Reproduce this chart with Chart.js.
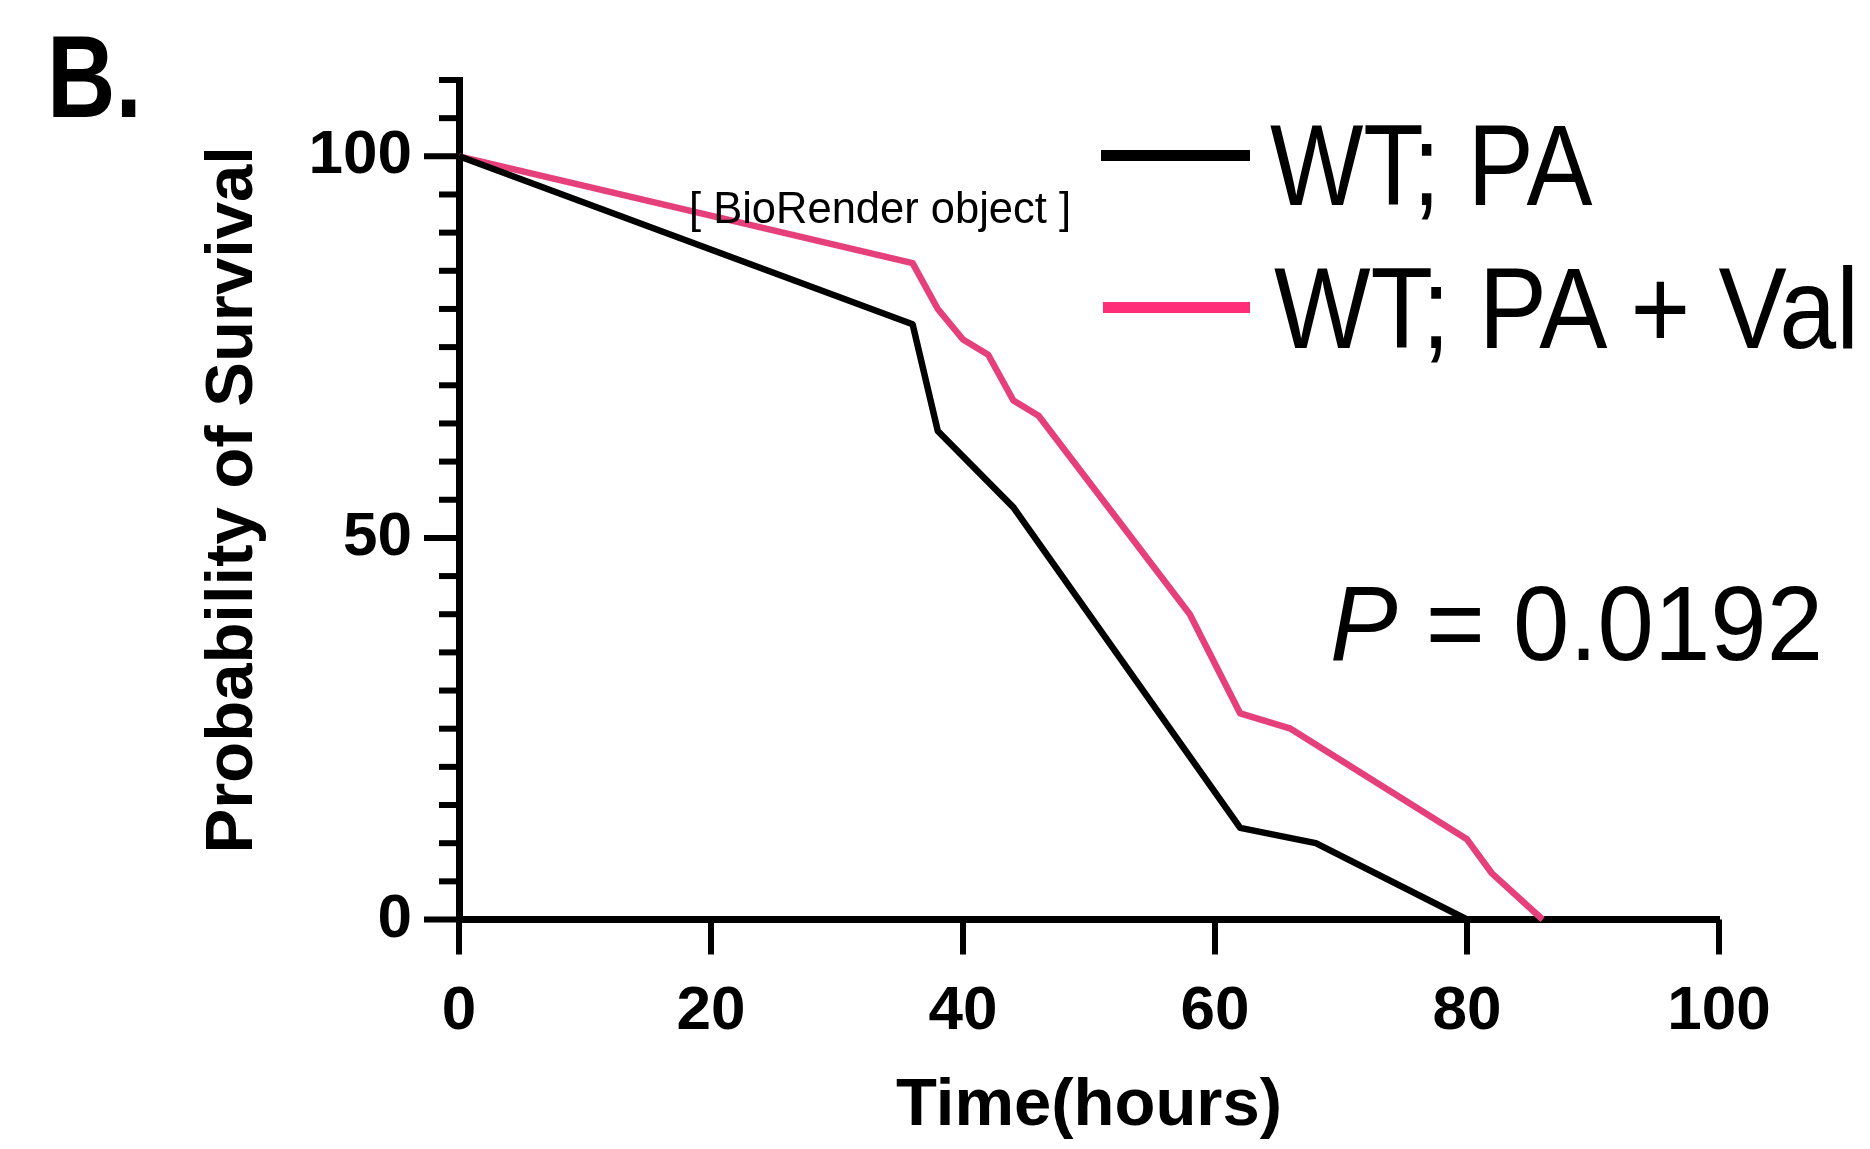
<!DOCTYPE html>
<html><head><meta charset="utf-8">
<script src="https://cdn.jsdelivr.net/npm/chart.js@4.4.1/dist/chart.umd.min.js"></script>
<style>
html,body{margin:0;padding:0;background:#fff;}
#wrap{position:relative;width:1870px;height:1149px;overflow:hidden;background:#fff;}
canvas{position:absolute;left:0;top:0;}
.t{position:absolute;white-space:nowrap;font-family:"Liberation Sans",Arial,sans-serif;color:#000;line-height:1;transform-origin:0 0;}
.bar{position:absolute;}
</style></head><body>
<div id="wrap">
<canvas id="c" width="1870" height="1149"></canvas>
<div class="t" id="panel" style="left:47px;top:18px;font-size:117px;font-weight:bold;transform:scaleX(0.81);">B.</div>
<div class="bar" id="bar1" style="left:1101px;top:150px;width:149px;height:11px;background:#000;"></div>
<div class="bar" id="bar2" style="left:1103px;top:302px;width:147px;height:11px;background:#ff2d78;"></div>
<div class="t" id="leg1" style="left:1270px;top:108px;font-size:115px;transform:scaleX(0.86);"></div>
<div class="t" id="leg2" style="left:1274px;top:251px;font-size:115px;transform:scaleX(0.89);"></div>
<div class="t" id="pval" style="left:1330px;top:571px;font-size:105px;transform:scaleX(0.965);"><i>P</i> = 0.0192</div>
<div class="t" id="bio" style="left:689px;top:187px;font-size:43.5px;">[ BioRender object ]</div>
</div>
<script>
// ---- data ----
const timeWT = [0, 36, 38, 44, 62, 68, 80];
const survWT = [100, 78, 64, 54, 12, 10, 0];
const timeVal = [0, 36, 38, 40, 42, 44, 46, 58, 62, 66, 80, 82, 86];
const survVal = [100, 86, 80, 76, 74, 68, 66, 40, 27, 25, 10.5, 6, 0];
const seriesNames = ['WT; PA', 'WT; PA + Val'];
const seriesColors = ['#000000', '#e5407a'];
const xTicks = [0, 20, 40, 60, 80, 100];
const yTickLabels = [0, 50, 100];
const xTitle = 'Time(hours)';
const yTitle = 'Probability of Survival';

document.getElementById('leg1').textContent = seriesNames[0];
document.getElementById('leg2').textContent = seriesNames[1];

const pts = (xs, ys) => xs.map((x, i) => ({x: x, y: ys[i]}));

Chart.defaults.font.family = '"Liberation Sans", Arial, sans-serif';
Chart.defaults.color = '#000';

const tickPlugin = {
  id: 'customTicks',
  beforeDatasetsDraw(chart) {
    const {ctx, chartArea: a} = chart;
    const x = chart.scales.x, y = chart.scales.y;
    ctx.save();
    ctx.strokeStyle = '#000';
    ctx.lineWidth = 6;
    y.ticks.forEach(t => {
      const py = y.getPixelForValue(t.value);
      const len = yTickLabels.includes(t.value) ? 35 : 20;
      ctx.beginPath(); ctx.moveTo(a.left, py); ctx.lineTo(a.left - len, py); ctx.stroke();
    });
    x.ticks.forEach(t => {
      if (!xTicks.includes(t.value)) return;
      const px = x.getPixelForValue(t.value);
      ctx.beginPath(); ctx.moveTo(px, a.bottom); ctx.lineTo(px, a.bottom + 35); ctx.stroke();
    });
    ctx.restore();
  }
};

new Chart(document.getElementById('c'), {
  type: 'line',
  data: {
    datasets: [
      {label: seriesNames[0], data: pts(timeWT, survWT), borderColor: seriesColors[0], borderWidth: 6.5, pointRadius: 0, tension: 0, fill: false, clip: false, borderJoinStyle: 'round'},
      {label: seriesNames[1], data: pts(timeVal, survVal), borderColor: seriesColors[1], borderWidth: 6.5, pointRadius: 0, tension: 0, fill: false, clip: false, borderJoinStyle: 'round'}
    ]
  },
  options: {
    responsive: false,
    animation: false,
    devicePixelRatio: 1,
    layout: {padding: {left: 0, right: 151, top: 80, bottom: 0}},
    plugins: {legend: {display: false}, tooltip: {enabled: false}},
    scales: {
      x: {
        type: 'linear', min: 0, max: 100,
        afterBuildTicks: s => { s.ticks = xTicks.map(v => ({value: v})); },
        ticks: {font: {size: 62, weight: 'bold'}, color: '#000', padding: 20, maxRotation: 0, autoSkip: false},
        grid: {display: true, drawOnChartArea: false, tickLength: 35, tickColor: 'rgba(0,0,0,0)'},
        border: {display: true, color: '#000', width: 7},
        title: {display: true, text: xTitle, font: {size: 67, weight: 'bold'}, color: '#000', padding: {top: 0, bottom: 2}},
        afterFit: s => { s.height = 229.5; }
      },
      y: {
        type: 'linear', min: 0, max: 110,
        ticks: {stepSize: 5, font: {size: 62, weight: 'bold'}, color: '#000', padding: 12, autoSkip: false,
                callback: v => yTickLabels.includes(v) ? String(v) : ''},
        grid: {display: true, drawOnChartArea: false, tickLength: 35, tickColor: 'rgba(0,0,0,0)'},
        border: {display: true, color: '#000', width: 7},
        title: {display: true, text: yTitle, font: {size: 67, weight: 'bold'}, color: '#000', padding: {top: 193, bottom: 0}},
        afterFit: s => { s.width = 459; }
      }
    }
  },
  plugins: [tickPlugin]
});
</script>
</body></html>
